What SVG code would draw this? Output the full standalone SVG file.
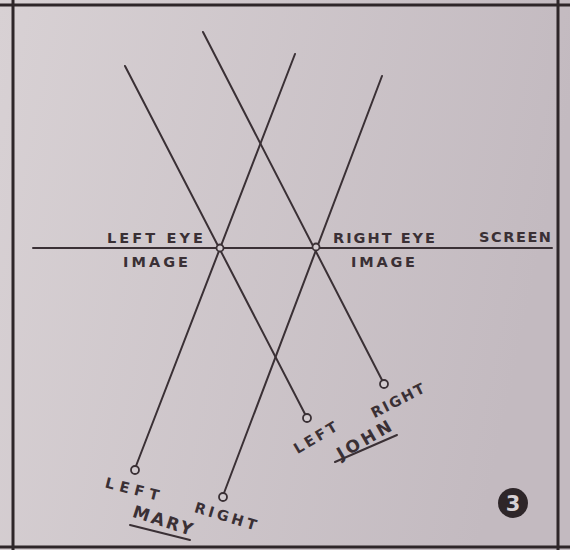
<svg xmlns="http://www.w3.org/2000/svg" width="570" height="550" viewBox="0 0 570 550">
<defs>
<linearGradient id="bg" x1="0" y1="0" x2="1" y2="0.2">
<stop offset="0" stop-color="#d8d1d4"/>
<stop offset="1" stop-color="#c3bac0"/>
</linearGradient>
<style>
.ln{stroke:#3a3035;stroke-width:2;fill:none;stroke-linecap:round}
.fr{stroke:#2e2629;stroke-width:3;fill:none}
.eye{stroke:#3a3035;stroke-width:1.8;fill:#d2cbcf}
.t{font-family:"DejaVu Sans","Liberation Sans",sans-serif;font-weight:bold;font-size:14.5px;fill:#3a3035}
.big{font-size:17px}
</style>
</defs>
<rect width="570" height="550" fill="url(#bg)"/>
<g id="frame">
<line class="fr" x1="0" y1="5" x2="570" y2="5"/>
<line class="fr" x1="0" y1="547" x2="570" y2="547"/>
<line class="fr" x1="13" y1="0" x2="13" y2="550"/>
<line class="fr" x1="558" y1="0" x2="558" y2="550"/>
</g>
<g id="connectors">
<line class="ln" x1="33" y1="248" x2="552" y2="248"/>
<line class="ln" x1="125" y1="66" x2="305" y2="414"/>
<line class="ln" x1="203" y1="32" x2="382" y2="380"/>
<line class="ln" x1="295" y1="54" x2="136" y2="466"/>
<line class="ln" x1="382" y1="76" x2="224" y2="493"/>
</g>
<g id="left-eye-image">
<circle class="eye" cx="220" cy="248" r="3.5"/>
<text class="t" x="107" y="243" textLength="96" lengthAdjust="spacing">LEFT EYE</text>
<text class="t" x="123" y="267" textLength="65" lengthAdjust="spacing">IMAGE</text>
</g>
<g id="right-eye-image">
<circle class="eye" cx="316" cy="247" r="3.5"/>
<text class="t" x="333" y="243" textLength="102" lengthAdjust="spacing">RIGHT EYE</text>
<text class="t" x="351" y="267" textLength="64" lengthAdjust="spacing">IMAGE</text>
</g>
<g id="screen">
<text class="t" x="479" y="242" textLength="72" lengthAdjust="spacing">SCREEN</text>
</g>
<g id="john">
<circle class="eye" cx="307" cy="418" r="4"/>
<circle class="eye" cx="384" cy="384" r="4"/>
<text class="t" text-anchor="middle" transform="translate(318,442) rotate(-31)" textLength="48" lengthAdjust="spacing">LEFT</text>
<text class="t" text-anchor="middle" transform="translate(400,405) rotate(-27)" textLength="58" lengthAdjust="spacing">RIGHT</text>
<text class="t big" text-anchor="middle" transform="translate(367,445) rotate(-30)" textLength="60" lengthAdjust="spacing">JOHN</text>
<line class="ln" x1="335" y1="462" x2="397" y2="435"/>
</g>
<g id="mary">
<circle class="eye" cx="135" cy="470" r="4"/>
<circle class="eye" cx="223" cy="497" r="4"/>
<text class="t" text-anchor="middle" transform="translate(131,494) rotate(14)" textLength="55" lengthAdjust="spacing">LEFT</text>
<text class="t" text-anchor="middle" transform="translate(224,521) rotate(17)" textLength="64" lengthAdjust="spacing">RIGHT</text>
<text class="t big" text-anchor="middle" transform="translate(161,526) rotate(18)" textLength="62" lengthAdjust="spacing">MARY</text>
<line class="ln" x1="130" y1="525" x2="190" y2="540"/>
</g>
<g id="badge">
<circle cx="513" cy="503" r="15" fill="#2e2629"/>
<text x="513" y="511" text-anchor="middle" font-family="DejaVu Sans, sans-serif" font-weight="bold" font-size="21" fill="#d8d1d4">3</text>
</g>
</svg>
